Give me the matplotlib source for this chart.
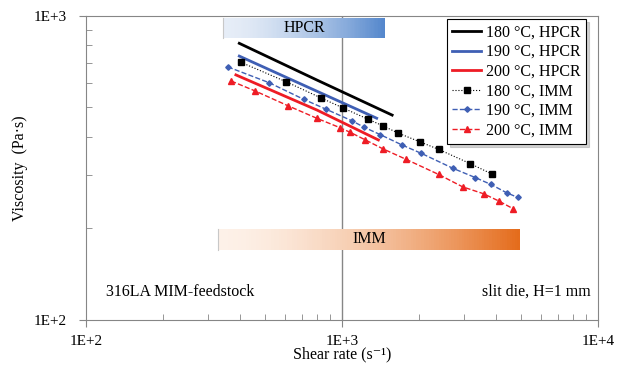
import matplotlib.pyplot as plt
import numpy as np
from matplotlib.colors import LinearSegmentedColormap
from matplotlib.ticker import FuncFormatter, LogLocator, NullFormatter

plt.rcParams['font.family'] = ['Liberation Serif', 'DejaVu Serif']

# HPCR (capillary rheometer) curves
hpcr_180_x = [397, 800, 1570]
hpcr_180_y = [813, 615, 472]
hpcr_190_x = [397, 800, 1366]
hpcr_190_y = [738, 565, 461]
hpcr_200_x = [385, 800, 1387]
hpcr_200_y = [640, 490, 391]

# IMM (injection moulding machine) measurements
imm_180_x = [403, 604, 826, 1005, 1267, 1446, 1655, 2022, 2386, 3162, 3853]
imm_180_y = [704, 608, 538, 499, 457, 435, 412, 385, 364, 327, 302]
imm_190_x = [358, 520, 708, 864, 1094, 1216, 1411, 1720, 2044, 2721, 3317, 3820, 4398, 4856]
imm_190_y = [680, 603, 532, 494, 452, 431, 407, 376, 353, 315, 294, 279, 262, 253]
imm_200_x = [369, 457, 617, 801, 982, 1078, 1227, 1450, 1774, 2386, 2961, 3577, 4104, 4668]
imm_200_y = [611, 567, 506, 460, 429, 414, 392, 365, 338, 301, 274, 260, 246, 232]

# shear rate ranges of the two methods
hpcr_range = (343, 1472)
hpcr_band_y = (847, 985)
imm_range = (328, 4955)
imm_band_y = (170, 199)

fig = plt.figure(figsize=(6.17, 3.72), dpi=100)
ax = fig.add_axes([0.1394, 0.140, 0.8298, 0.817])
ax.set_xscale('log')
ax.set_yscale('log')
ax.set_xlim(100, 10000)
ax.set_ylim(100, 1000)

gray = '#868686'
for s in ax.spines.values():
    s.set_color(gray)
ax.axvline(1000, color=gray, lw=1.0, zorder=1)


def band(xr, yr, c0, c1, label):
    xs = np.logspace(np.log10(xr[0]), np.log10(xr[1]), 120)
    cmap = LinearSegmentedColormap.from_list('b', [c0, c1])
    vals = np.linspace(0, 1, len(xs) - 1) ** 1.6
    ax.pcolormesh(xs, list(yr), vals[None, :], cmap=cmap, vmin=0, vmax=1,
                  shading='flat', zorder=2)
    ax.plot([xr[0], xr[0]], list(yr), color='#c8c8c8', lw=0.8, zorder=2)
    xm = np.sqrt(xr[0] * xr[1])
    ym = np.sqrt(yr[0] * yr[1])
    ax.text(xm, ym, label, ha='center', va='center', fontsize=11.5, zorder=3)


band(hpcr_range, hpcr_band_y, '#e6edf7', '#5487cc', 'HPCR')
band(imm_range, imm_band_y, '#fdf1e8', '#e46c1c', 'IMM')

ax.plot(hpcr_180_x, hpcr_180_y, color='black', lw=2.0, label='180 °C, HPCR', zorder=4)
ax.plot(hpcr_190_x, hpcr_190_y, color='#3f5fb4', lw=2.0, label='190 °C, HPCR', zorder=4)
ax.plot(hpcr_200_x, hpcr_200_y, color='#ee1c25', lw=2.0, label='200 °C, HPCR', zorder=4)
ax.plot(imm_180_x, imm_180_y, color='black', ls=':', lw=0.8, marker='s', ms=3.8,
        label='180 °C, IMM', zorder=4)
ax.plot(imm_190_x, imm_190_y, color='#3f5fb4', ls='--', lw=1.0, marker='D', ms=2.8,
        label='190 °C, IMM', zorder=4)
ax.plot(imm_200_x, imm_200_y, color='#ee1c25', ls='--', lw=1.0, marker='^', ms=3.8,
        label='200 °C, IMM', zorder=4)

fmt = FuncFormatter(lambda v, p: '1E+%d' % round(np.log10(v)))
ax.xaxis.set_major_formatter(fmt)
ax.yaxis.set_major_formatter(fmt)
ax.xaxis.set_minor_locator(LogLocator(base=10, subs=np.arange(2, 10)))
ax.yaxis.set_minor_locator(LogLocator(base=10, subs=np.arange(2, 10)))
ax.xaxis.set_minor_formatter(NullFormatter())
ax.yaxis.set_minor_formatter(NullFormatter())
ax.tick_params(which='major', direction='out', length=5, color=gray, labelsize=11)
ax.tick_params(which='minor', direction='in', length=4, color=gray)
ax.tick_params(axis='x', pad=6)
ax.tick_params(axis='y', pad=9)

ax.set_xlabel('Shear rate (s⁻¹)', fontsize=11.5, labelpad=-1)
ax.set_ylabel('Viscosity  (Pa·s)', fontsize=11.5, labelpad=4)

ax.text(0.04, 0.08, '316LA MIM-feedstock', transform=ax.transAxes, fontsize=11.5)
ax.text(0.985, 0.08, 'slit die, H=1 mm', transform=ax.transAxes, fontsize=11.5, ha='right')

leg = ax.legend(loc='upper right', bbox_to_anchor=(0.977, 0.99), borderaxespad=0,
                fontsize=11.5, handlelength=1.8, handletextpad=0.3, labelspacing=0.22,
                borderpad=0.35, fancybox=False,
                shadow={'ox': 2, 'oy': -2, 'color': '0.65'}, framealpha=1)
leg.get_frame().set_edgecolor('black')
leg.get_frame().set_linewidth(0.8)
leg.set_zorder(6)

fig.savefig('out.png', dpi=100)
